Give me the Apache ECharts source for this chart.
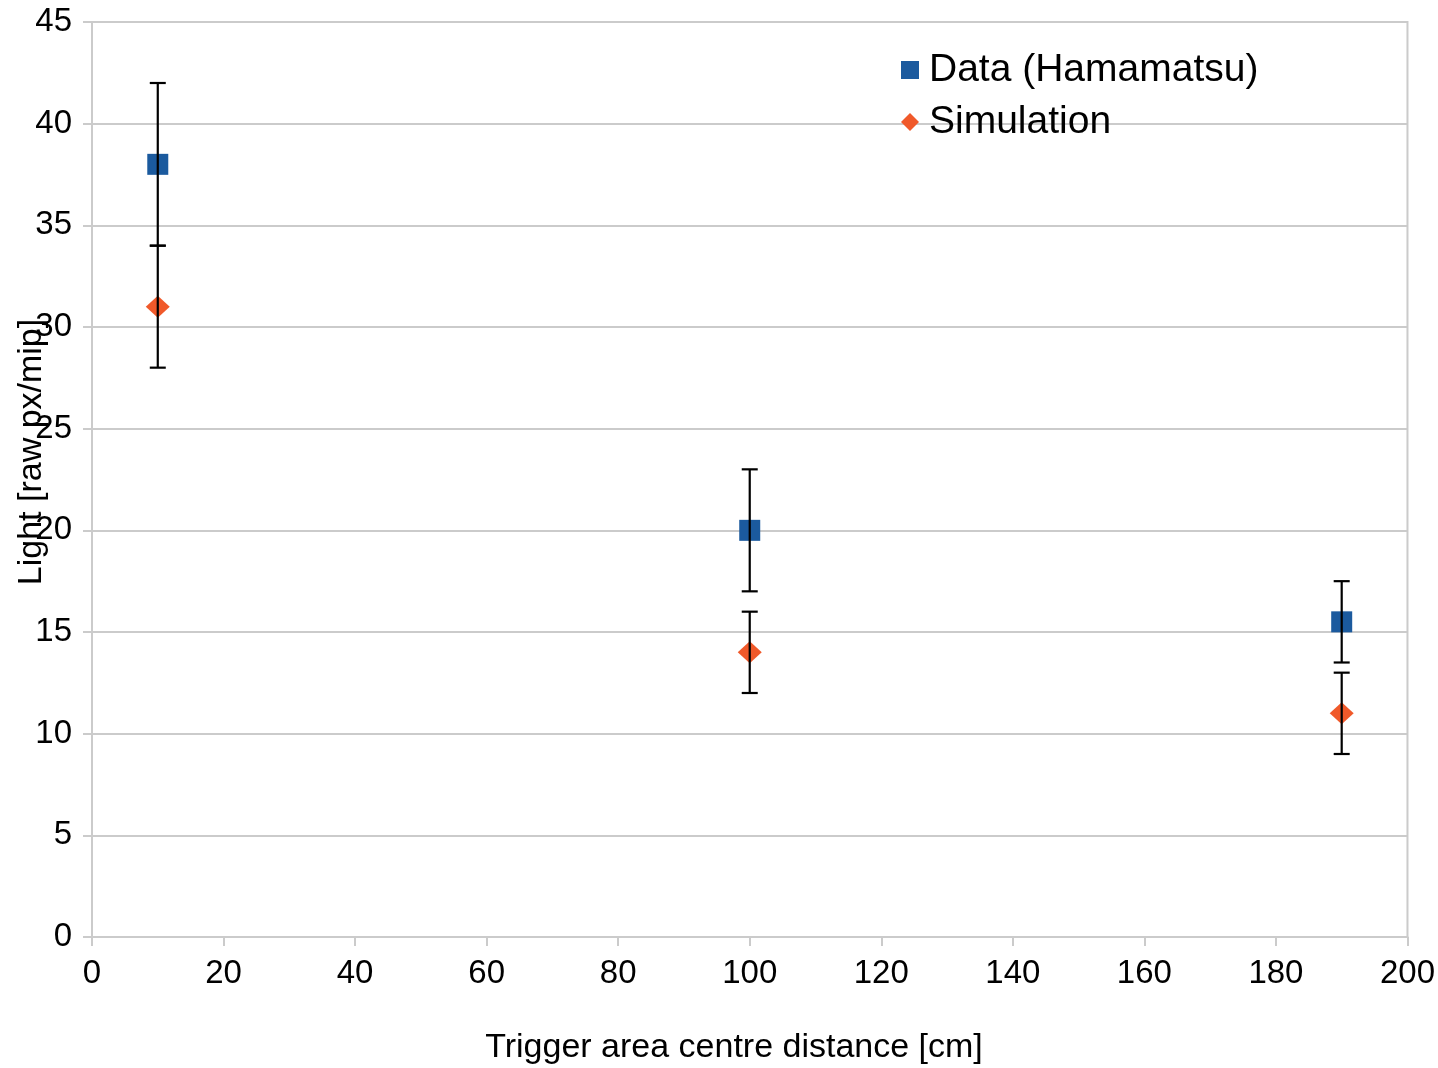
<!DOCTYPE html>
<html>
<head>
<meta charset="utf-8">
<title>Light vs trigger area centre distance</title>
<script src="https://cdn.jsdelivr.net/npm/echarts@6/dist/echarts.min.js"></script>
<style>
  html, body { margin: 0; padding: 0; background: #ffffff; }
  #chart { width: 1438px; height: 1068px; }
</style>
</head>
<body>
<div id="chart"></div>
<script>
// Trigger area centre distances [cm]
const distances = [10, 100, 190];
// Measured light yield (Hamamatsu) and its uncertainty [raw px/mip]
const dataLight = [38, 20, 15.5];
const dataErr = [4, 3, 2];
// Simulated light yield and its uncertainty [raw px/mip]
const simLight = [31, 14, 11];
const simErr = [3, 2, 2];

const xTicks = { min: 0, max: 200, interval: 20 };
const yTicks = { min: 0, max: 45, interval: 5 };

const FONT = '"Liberation Sans", Arial, Helvetica, sans-serif';
const GRID_GREY = '#cbcbcb';
const DATA_BLUE = '#1b5a9e';
const SIM_ORANGE = '#f0592a';

const points = (ys) => distances.map((x, i) => [x, ys[i]]);
const bars = (ys, es) => distances.map((x, i) => [x, ys[i] - es[i], ys[i] + es[i]]);

// Vertical error bar with caps, drawn in data coordinates
function errorBar(params, api) {
  const x = api.value(0);
  const lo = api.coord([x, api.value(1)]);
  const hi = api.coord([x, api.value(2)]);
  const cap = 8;
  const style = { stroke: '#000000', lineWidth: 2.2 };
  return {
    type: 'group',
    children: [
      { type: 'line', shape: { x1: lo[0], y1: lo[1], x2: hi[0], y2: hi[1] }, style },
      { type: 'line', shape: { x1: lo[0] - cap, y1: lo[1], x2: lo[0] + cap, y2: lo[1] }, style },
      { type: 'line', shape: { x1: hi[0] - cap, y1: hi[1], x2: hi[0] + cap, y2: hi[1] }, style }
    ]
  };
}

const chart = echarts.init(document.getElementById('chart'), null, { renderer: 'canvas' });

chart.setOption({
  animation: false,
  backgroundColor: '#ffffff',
  textStyle: { fontFamily: FONT },
  grid: {
    left: 92, right: 28, top: 22, bottom: 131,
    containLabel: false,
    show: true,
    borderColor: GRID_GREY,
    borderWidth: 2
  },
  legend: {
    orient: 'vertical',
    left: 896,
    top: 39,
    itemWidth: 18,
    itemHeight: 18,
    itemGap: 0,
    itemStyle: { opacity: 1 },
    textStyle: { fontSize: 39, color: '#000000', fontFamily: FONT, lineHeight: 52, padding: [0, 0, 0, 5] },
    data: [
      { name: 'Data (Hamamatsu)', icon: 'rect' },
      { name: 'Simulation', icon: 'diamond' }
    ]
  },
  xAxis: {
    type: 'value',
    min: xTicks.min, max: xTicks.max, interval: xTicks.interval,
    axisLine: { show: true, lineStyle: { color: GRID_GREY, width: 2 } },
    axisTick: { show: true, inside: false, length: 9, lineStyle: { color: GRID_GREY, width: 2 } },
    splitLine: { show: false },
    axisLabel: { fontSize: 33, color: '#000000', margin: 20, fontFamily: FONT }
  },
  yAxis: {
    type: 'value',
    min: yTicks.min, max: yTicks.max, interval: yTicks.interval,
    axisLine: { show: true, lineStyle: { color: GRID_GREY, width: 2 } },
    axisTick: { show: true, inside: false, length: 9, lineStyle: { color: GRID_GREY, width: 2 } },
    splitLine: { show: true, lineStyle: { color: GRID_GREY, width: 2 } },
    axisLabel: { fontSize: 33, color: '#000000', margin: 20, fontFamily: FONT }
  },
  graphic: [
    {
      type: 'text',
      x: 734, y: 1048,
      style: {
        text: 'Trigger area centre distance [cm]',
        font: '34px ' + FONT,
        fill: '#000000',
        align: 'center',
        verticalAlign: 'middle'
      }
    },
    {
      type: 'text',
      x: 32, y: 452,
      rotation: Math.PI / 2,
      z: 100,
      style: {
        text: 'Light [raw px/mip]',
        font: '34px ' + FONT,
        fill: '#000000',
        align: 'center',
        verticalAlign: 'middle'
      }
    }
  ],
  series: [
    {
      name: 'Data (Hamamatsu)',
      type: 'scatter',
      symbol: 'rect',
      symbolSize: 21,
      itemStyle: { color: DATA_BLUE, opacity: 1 },
      data: points(dataLight),
      z: 2
    },
    {
      name: 'Simulation',
      type: 'scatter',
      symbol: 'diamond',
      symbolSize: [24, 22],
      itemStyle: { color: SIM_ORANGE, opacity: 1 },
      data: points(simLight),
      z: 2
    },
    {
      name: 'data-errors',
      type: 'custom',
      renderItem: errorBar,
      data: bars(dataLight, dataErr),
      encode: { x: 0, y: [1, 2] },
      z: 5,
      silent: true
    },
    {
      name: 'sim-errors',
      type: 'custom',
      renderItem: errorBar,
      data: bars(simLight, simErr),
      encode: { x: 0, y: [1, 2] },
      z: 5,
      silent: true
    }
  ]
});
</script>
</body>
</html>
